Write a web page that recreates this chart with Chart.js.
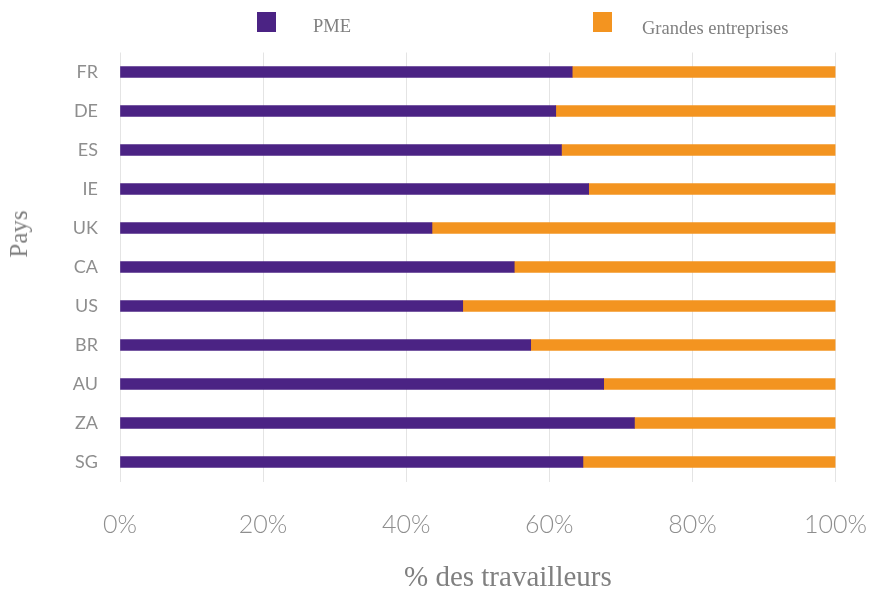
<!DOCTYPE html>
<html>
<head>
<meta charset="utf-8">
<script src="https://cdn.jsdelivr.net/npm/chart.js@4"></script>
<style>
  html, body { margin: 0; padding: 0; background: #fff; }
  #wrap { position: relative; width: 869px; height: 590px; }
  #chart { position: absolute; left: 0; top: 0; }
  .leg-box { position: absolute; width: 19px; height: 20px; }
  .txt { position: absolute; font-family: "Liberation Serif", serif; color: #808080; white-space: nowrap; }
</style>
</head>
<body>
<div id="wrap">
  <canvas id="chart" width="869" height="590"></canvas>
  <div class="leg-box" style="left:257px;top:12px;background:#4b2384"></div>
  <div class="txt" style="left:313px;top:16px;font-size:18.5px">PME</div>
  <div class="leg-box" style="left:593px;top:12px;background:#f39420"></div>
  <div class="txt" style="left:642px;top:18px;font-size:18.5px">Grandes entreprises</div>
  <div class="txt" style="left:404px;top:560px;font-size:29px">% des travailleurs</div>
  <div class="txt" style="left:19px;top:234px;font-size:25px;transform:translate(-50%,-50%) rotate(-90deg)">Pays</div>
</div>
<script>
// country codes, top to bottom
const countries = ['FR', 'DE', 'ES', 'IE', 'UK', 'CA', 'US', 'BR', 'AU', 'ZA', 'SG'];
// share of workers in SMEs (%)
const pme = [63.2, 60.9, 61.7, 65.5, 43.6, 55.1, 47.9, 57.4, 67.6, 71.9, 64.7];
// share in large companies (%)
const grandes = [36.8, 39.1, 38.3, 34.5, 56.4, 44.9, 52.1, 42.6, 32.4, 28.1, 35.3];
const xTicks = [0, 20, 40, 60, 80, 100];

const gray = '#8e8e8e';

new Chart(document.getElementById('chart'), {
    type: 'bar',
    data: {
        labels: countries,
        datasets: [
            { label: 'PME', data: pme, backgroundColor: '#4b2384', barThickness: 11 },
            { label: 'Grandes entreprises', data: grandes, backgroundColor: '#f39420', barThickness: 11 }
        ]
    },
    options: {
        indexAxis: 'y',
        responsive: false,
        animation: false,
        layout: { padding: { top: 52.5, right: 33.5, left: 0, bottom: 0 } },
        plugins: { legend: { display: false }, tooltip: { enabled: false } },
        scales: {
            x: {
                stacked: true,
                min: 0,
                max: 100,
                afterBuildTicks: s => { s.ticks = xTicks.map(v => ({ value: v })); },
                afterFit: s => { s.height = 108.5; s.paddingLeft = 0; s.paddingRight = 0; },
                grid: { color: '#e4e4e4', drawTicks: false },
                border: { display: false },
                ticks: {
                    padding: 28,
                    color: gray,
                    font: { family: 'Lato', size: 25, weight: 300 },
                    callback: v => v + '%'
                }
            },
            y: {
                stacked: true,
                afterFit: s => { s.width = 120; },
                grid: { display: false, drawTicks: false },
                border: { display: false },
                ticks: {
                    padding: 22,
                    color: gray,
                    font: { family: 'Lato', size: 18 }
                }
            }
        }
    }
});
</script>
</body>
</html>
